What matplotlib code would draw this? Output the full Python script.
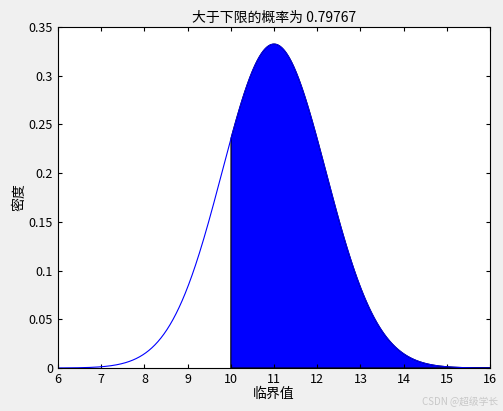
import numpy as np
import matplotlib
matplotlib.use("Agg")
import matplotlib.pyplot as plt

plt.rcParams['font.family'] = ['Noto Sans CJK SC', 'DejaVu Sans']

mu = 11.0
sigma = 1.2
lower = 10.0
x_range = [6, 16]
prob_text = "0.79767"
xticks = list(range(6, 17))
yticks = [0, 0.05, 0.1, 0.15, 0.2, 0.25, 0.3, 0.35]

x = np.linspace(x_range[0], x_range[1], 1000)
y = np.exp(-0.5 * ((x - mu) / sigma) ** 2) / (sigma * np.sqrt(2 * np.pi))

fig = plt.figure(figsize=(5.03, 4.11), dpi=100, facecolor='#f0f0f0')
ax = fig.add_axes([0.1153, 0.1046, 0.859, 0.8297])
ax.plot(x, y, color='blue', lw=0.8)
m = x >= lower
xf = np.concatenate([[lower], x[m], [x_range[1]]])
yf = np.concatenate([[0], y[m], [0]])
ax.fill(xf, yf, facecolor='blue', edgecolor='black', lw=0.8)

ax.set_xlim(6, 16)
ax.set_ylim(0, 0.35)
ax.set_xticks(xticks)
ax.set_yticks(yticks)
ax.set_yticklabels(['0', '0.05', '0.1', '0.15', '0.2', '0.25', '0.3', '0.35'])
ax.tick_params(direction='in', labelsize=9, length=3, top=True, right=True, labeltop=False, labelright=False)
ax.set_title("大于下限的概率为 " + prob_text, fontsize=10, pad=4)
ax.set_xlabel("临界值", fontsize=10, labelpad=1)
ax.set_ylabel("密度", fontsize=10, labelpad=2)
fig.text(0.99, 0.01, "CSDN @超级学长", ha='right', va='bottom', fontsize=7, color='#c8c8c8')
fig.savefig("out.png", dpi=100, facecolor=fig.get_facecolor())
